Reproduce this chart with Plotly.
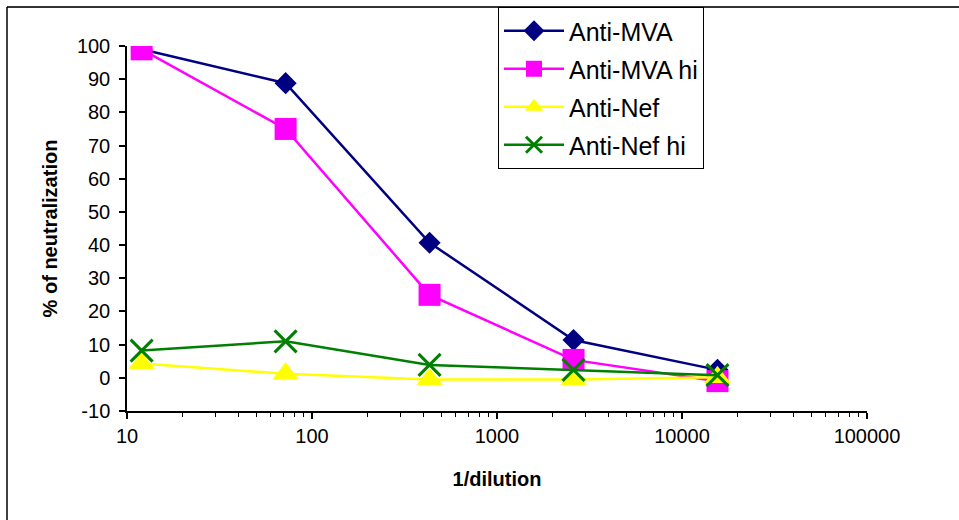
import plotly.graph_objects as go

# Reciprocal dilution series (1:12, then six-fold steps)
dilution = [12, 72, 432, 2592, 15552]

anti_mva = [99.0, 88.8, 40.7, 11.4, 2.4]
anti_mva_hi = [99.0, 75.0, 25.0, 5.4, -1.0]
anti_nef = [4.3, 1.2, -0.5, -0.5, 0.2]
anti_nef_hi = [8.2, 11.0, 3.9, 2.4, 0.8]

series_names = ["Anti-MVA", "Anti-MVA hi", "Anti-Nef", "Anti-Nef hi"]
y_ticks = list(range(-10, 101, 10))
x_ticks = [10, 100, 1000, 10000, 100000]

FONT = "Liberation Sans, Arial, sans-serif"
W, H = 959, 520
L, R, T, B = 127, 92, 46, 109
PW, PH = W - L - R, H - T - B

styles = [
    dict(color="#000080", symbol="diamond", size=17),
    dict(color="#FF00FF", symbol="square", size=22),
    dict(color="#FFFF00", symbol="triangle-up", size=23),
    dict(color="#008000", symbol="x-thin", size=22),
]

fig = go.Figure()
for name, values, st in zip(series_names, [anti_mva, anti_mva_hi, anti_nef, anti_nef_hi], styles):
    marker = dict(symbol=st["symbol"], size=st["size"], color=st["color"])
    if st["symbol"] == "x-thin":
        marker["line"] = dict(color=st["color"], width=3)
    fig.add_trace(go.Scatter(
        x=dilution, y=values, name=name, mode="lines+markers",
        line=dict(color=st["color"], width=2.5),
        marker=marker, legendgroup=name,
    ))

# outer chart-area frame (left and top edges)
fx = (7 - L) / PW
fy = 1 + (T - 7) / PH

fig.update_layout(
    width=W, height=H,
    margin=dict(l=L, r=R, t=T, b=B, autoexpand=False),
    paper_bgcolor="white", plot_bgcolor="white",
    font=dict(family=FONT, color="black"),
    showlegend=True,
    legend=dict(
        x=(498 - L) / PW, y=fy, xanchor="left", yanchor="top",
        bordercolor="black", borderwidth=1, bgcolor="white",
        font=dict(size=25, family=FONT),
        itemwidth=60, tracegroupgap=2.5, itemsizing="trace",
    ),
    xaxis=dict(
        type="log", range=[1, 5],
        tickvals=x_ticks, ticktext=[str(v) for v in x_ticks],
        ticks="outside", ticklen=6, tickwidth=1.5, tickcolor="black",
        showline=True, linecolor="black", linewidth=1.5,
        showgrid=False, zeroline=False,
        minor=dict(ticks="outside", ticklen=4, tickwidth=1, tickcolor="black",
                   dtick="D1", showgrid=False),
        tickfont=dict(size=20),
        title=dict(text="<b>1/dilution</b>", font=dict(size=20), standoff=26),
    ),
    yaxis=dict(
        range=[-10, 100], tickvals=y_ticks, ticktext=[str(v) for v in y_ticks],
        ticks="outside", ticklen=6, tickwidth=1.5, tickcolor="black",
        showline=True, linecolor="black", linewidth=1.5,
        showgrid=False, zeroline=False,
        tickfont=dict(size=20), ticklabelstandoff=5,
        title=dict(text="<b>% of neutralization</b>", font=dict(size=20), standoff=14),
    ),
    shapes=[
        dict(type="line", xref="paper", yref="paper", x0=fx, x1=1.2,
             y0=fy, y1=fy, line=dict(color="#333333", width=2)),
        dict(type="line", xref="paper", yref="paper", x0=fx, x1=fx,
             y0=fy, y1=-0.35, line=dict(color="black", width=1.5)),
    ],
)

fig.write_html("out.html")
